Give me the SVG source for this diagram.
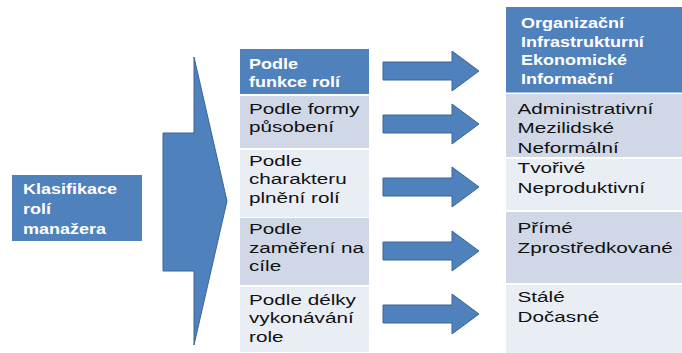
<svg xmlns="http://www.w3.org/2000/svg" width="682" height="353" viewBox="0 0 682 353">
<style>
.hdr{fill:#4F81BD}
.r1{fill:#D0D8E8}
.r2{fill:#E9EDF4}
.arr{fill:#4F81BD;stroke:#3B6596;stroke-width:1}
.b{font-family:"Liberation Sans",Arial,sans-serif;font-weight:bold;font-size:15px;fill:#fff}
.t{font-family:"Liberation Sans",Arial,sans-serif;font-size:15px;fill:#111}
</style>
<defs>
<path id="sa" d="M0,-9 H69 V-20 L96,0 L69,20 V9 H0 Z"/>
</defs>
<rect width="682" height="353" fill="#fff"/>

<g id="connectors">
<polygon class="arr" points="163,133 194,133 194,57 227,201 194,345 194,271 163,271"/>
<use href="#sa" class="arr" x="383" y="71"/>
<use href="#sa" class="arr" x="383" y="124"/>
<use href="#sa" class="arr" x="383" y="187"/>
<use href="#sa" class="arr" x="383" y="251"/>
<use href="#sa" class="arr" x="383" y="314"/>
</g>

<g id="klasifikace">
<rect class="hdr" x="12" y="175" width="130" height="66"/>
<text class="b" transform="translate(23,0) scale(1.2,1)"><tspan x="0" y="194.5">Klasifikace</tspan><tspan x="0" y="214">rolí</tspan><tspan x="0" y="234">manažera</tspan></text>
</g>

<g id="podle-funkce">
<rect class="hdr" x="240" y="49" width="129" height="45"/>
<text class="b" transform="translate(249,0) scale(1.2,1)"><tspan x="0" y="69">Podle</tspan><tspan x="0" y="87">funkce rolí</tspan></text>
</g>
<g id="podle-formy">
<rect class="r1" x="240" y="96" width="129" height="52"/>
<text class="t" transform="translate(249,0) scale(1.38,1)"><tspan x="0" y="114">Podle formy</tspan><tspan x="0" y="132">působení</tspan></text>
</g>
<g id="podle-charakteru">
<rect class="r2" x="240" y="150" width="129" height="67"/>
<text class="t" transform="translate(249,0) scale(1.38,1)"><tspan x="0" y="166">Podle</tspan><tspan x="0" y="184.5">charakteru</tspan><tspan x="0" y="203">plnění rolí</tspan></text>
</g>
<g id="podle-zamereni">
<rect class="r1" x="240" y="218" width="129" height="67"/>
<text class="t" transform="translate(249,0) scale(1.38,1)"><tspan x="0" y="234">Podle</tspan><tspan x="0" y="253">zaměření na</tspan><tspan x="0" y="271.5">cíle</tspan></text>
</g>
<g id="podle-delky">
<rect class="r2" x="240" y="287" width="129" height="65"/>
<text class="t" transform="translate(249,0) scale(1.38,1)"><tspan x="0" y="305">Podle délky</tspan><tspan x="0" y="323.5">vykonávání</tspan><tspan x="0" y="342">role</tspan></text>
</g>

<g id="funkce-vysledek">
<rect class="hdr" x="506" y="7" width="176" height="85.5"/>
<text class="b" transform="translate(521,0) scale(1.2,1)"><tspan x="0" y="28.5">Organizační</tspan><tspan x="0" y="47">Infrastrukturní</tspan><tspan x="0" y="65.5">Ekonomické</tspan><tspan x="0" y="84">Informační</tspan></text>
</g>
<g id="formy-vysledek">
<rect class="r1" x="506" y="94" width="176" height="63"/>
<text class="t" transform="translate(517.5,0) scale(1.38,1)"><tspan x="0" y="114">Administrativní</tspan><tspan x="0" y="133.5">Mezilidské</tspan><tspan x="0" y="153.5">Neformální</tspan></text>
</g>
<g id="charakteru-vysledek">
<rect class="r2" x="506" y="159" width="176" height="51"/>
<text class="t" transform="translate(517.5,0) scale(1.38,1)"><tspan x="0" y="173.5">Tvořivé</tspan><tspan x="0" y="193.5">Neproduktivní</tspan></text>
</g>
<g id="zamereni-vysledek">
<rect class="r1" x="506" y="212" width="176" height="71"/>
<text class="t" transform="translate(517.5,0) scale(1.38,1)"><tspan x="0" y="233">Přímé</tspan><tspan x="0" y="253">Zprostředkované</tspan></text>
</g>
<g id="delky-vysledek">
<rect class="r2" x="506" y="285" width="176" height="68"/>
<text class="t" transform="translate(517.5,0) scale(1.38,1)"><tspan x="0" y="302">Stálé</tspan><tspan x="0" y="322">Dočasné</tspan></text>
</g>
</svg>
